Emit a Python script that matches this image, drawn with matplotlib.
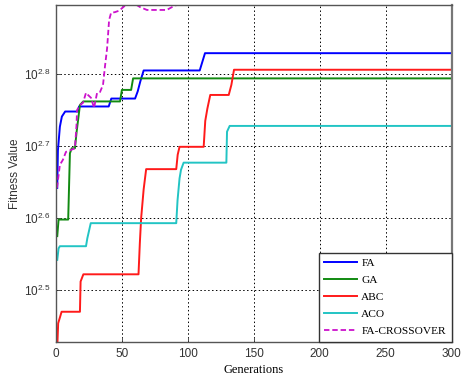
import numpy as np
import matplotlib
matplotlib.use("Agg")
import matplotlib.pyplot as plt

# ----------------------------
# Data (generation, log10 fitness)
# ----------------------------
fa_gen = [1, 1.5, 3, 4.5, 7, 17, 17.5, 40, 42, 60, 62, 64, 66.5, 109, 113, 300]
fa_log = [2.642, 2.694, 2.727, 2.741, 2.748, 2.748, 2.755, 2.755, 2.766, 2.766,
          2.776, 2.790, 2.805, 2.805, 2.829, 2.829]

ga_gen = [1, 2, 9.3, 10.6, 12, 14.4, 15.7, 18.2, 20.7, 48.6, 50, 57, 58.5, 300]
ga_log = [2.575, 2.598, 2.598, 2.690, 2.697, 2.697, 2.720, 2.757, 2.762, 2.762,
          2.778, 2.778, 2.794, 2.794]

abc_gen = [1, 1.7, 4.3, 18.2, 18.7, 20.8, 62.6, 63.6, 64.6, 66.5, 68.4, 91.2, 92.3,
           93.7, 112, 113.2, 114.8, 117, 131, 133, 135, 300]
abc_log = [2.420, 2.454, 2.470, 2.470, 2.512, 2.522, 2.522, 2.565, 2.600, 2.640,
           2.668, 2.668, 2.688, 2.699, 2.699, 2.735, 2.752, 2.771, 2.771, 2.785,
           2.806, 2.806]

aco_gen = [1, 2, 3, 22.8, 23.8, 26.4, 91.2, 92.2, 93.7, 94.8, 96.8, 129.2, 129.7,
           131.7, 300]
aco_log = [2.542, 2.558, 2.561, 2.561, 2.572, 2.593, 2.593, 2.625, 2.655, 2.667,
           2.677, 2.677, 2.720, 2.728, 2.728]

cross_gen = [0.8, 3, 5.3, 7.6, 10.6, 14.4, 15.6, 16, 18.2, 20.5, 22.8, 24.3, 26.6,
             28.9, 31.2, 33.4, 35.7, 37.2, 38.8, 40.3, 41.8, 44.8, 47.9, 51.7, 54.7,
             60.8, 63.8, 69, 84, 88, 92, 300]
cross_log = [2.642, 2.674, 2.681, 2.692, 2.694, 2.697, 2.729, 2.750, 2.757, 2.760,
             2.774, 2.771, 2.767, 2.753, 2.774, 2.775, 2.785, 2.811, 2.836, 2.875,
             2.885, 2.886, 2.888, 2.894, 2.8963, 2.8963, 2.893, 2.889, 2.889, 2.893,
             2.8963, 2.8963]

series = [
    ("FA", fa_gen, fa_log, "#0000ff", "-"),
    ("GA", ga_gen, ga_log, "#118a11", "-"),
    ("ABC", abc_gen, abc_log, "#ff1a1a", "-"),
    ("ACO", aco_gen, aco_log, "#22c4c4", "-"),
    ("FA-CROSSOVER", cross_gen, cross_log, "#cc11cc", "--"),
]

x_ticks = [0, 50, 100, 150, 200, 250, 300]
y_exps = [2.5, 2.6, 2.7, 2.8]

# ----------------------------
# Plot
# ----------------------------
fig = plt.figure(figsize=(4.7, 3.79), dpi=100)
ax = fig.add_axes([0.119, 0.0976, 0.842, 0.89])

for name, g, v, col, ls in series:
    y = 10 ** np.array(v)
    if ls == "--":
        ax.plot(g, y, color=col, lw=1.3, linestyle=(0, (3, 1.6)), label=name)
    else:
        ax.plot(g, y, color=col, lw=1.4, label=name)

ax.set_yscale("log")
ax.set_xlim(0, 300)
ax.set_ylim(10 ** 2.428, 10 ** 2.8963)
ax.set_xticks(x_ticks)
ax.set_yticks([10 ** e for e in y_exps])
ax.set_yticklabels([r"$\mathregular{10^{%.1f}}$" % e for e in y_exps])
ax.yaxis.set_minor_locator(matplotlib.ticker.NullLocator())

tick_font = ["Liberation Sans Narrow", "Liberation Sans", "DejaVu Sans"]
for lab in ax.get_xticklabels() + ax.get_yticklabels():
    lab.set_family(tick_font)
    lab.set_fontsize(8.5)
ax.tick_params(direction="in", length=3, width=0.6, colors="#333333", pad=4)

ax.grid(True, color="k", linestyle=(0, (1.5, 2.5)), lw=0.7)
for s in ax.spines.values():
    s.set_color("#555555")
    s.set_linewidth(1.0)
ax.spines["right"].set_linewidth(1.6)
ax.spines["right"].set_color("#777777")

ax.set_xlabel("Generations", family="Liberation Serif", fontsize=9, labelpad=3)
ax.set_ylabel("Fitness Value", family="Liberation Sans", fontsize=8.5,
              color="#333333")
ax.yaxis.set_label_coords(-0.088, 0.5)

leg = ax.legend(loc="lower right", borderaxespad=0, fancybox=False,
                prop={"family": "Liberation Serif", "size": 8.2},
                handlelength=2.9, handletextpad=0.35, labelspacing=0.62,
                borderpad=0.5)
leg.get_frame().set_edgecolor("#333333")
leg.get_frame().set_linewidth(1.0)
leg.get_frame().set_alpha(1)

fig.savefig("out.png", dpi=100)
